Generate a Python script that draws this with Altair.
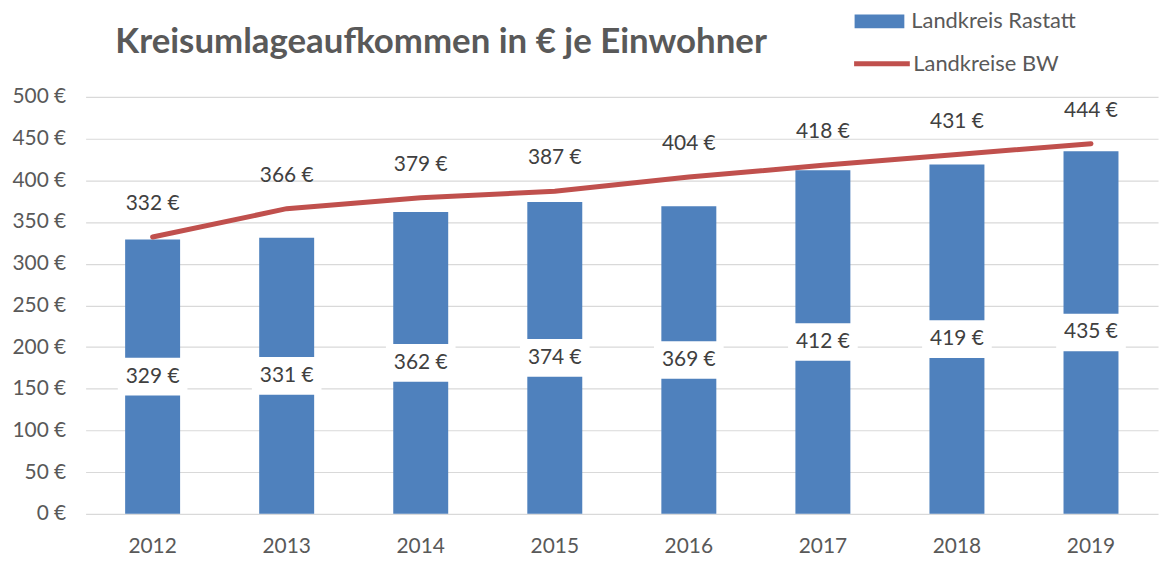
import altair as alt
import pandas as pd

years = ["2012", "2013", "2014", "2015", "2016", "2017", "2018", "2019"]
rastatt = [329, 331, 362, 374, 369, 412, 419, 435]
bw = [332, 366, 379, 387, 404, 418, 431, 444]

df = pd.DataFrame({
    "year": years,
    "rastatt": rastatt,
    "bw": bw,
    "s1": ["Landkreis Rastatt"] * len(years),
    "s2": ["Landkreise BW"] * len(years),
})

FONT = "Lato"
GREY = "#595959"
FS = 21

x = alt.X("year:N", title=None,
          scale=alt.Scale(paddingInner=0.59, paddingOuter=0.295),
          axis=alt.Axis(labelAngle=0, labelFontSize=FS, labelColor=GREY, labelFont=FONT,
                        domain=False, ticks=False, labelPadding=22))

base = alt.Chart(df).encode(x=x)

bars = base.mark_bar(color="#4F81BD").encode(
    y=alt.Y("rastatt:Q", title=None,
            scale=alt.Scale(domain=[0, 500]),
            axis=alt.Axis(values=list(range(0, 501, 50)), labelExpr="datum.value + ' €'",
                          labelFontSize=FS, labelColor=GREY, labelFont=FONT,
                          domain=False, ticks=False, labelPadding=20,
                          gridColor="#D9D9D9", gridWidth=1.2)),
    fill=alt.Fill("s1:N", title=None,
                  scale=alt.Scale(domain=["Landkreis Rastatt"], range=["#4F81BD"]),
                  legend=alt.Legend(orient="none", legendX=773, legendY=-101,
                                    symbolType="M-1,-0.28H1V0.28H-1Z", symbolSize=2500,
                                    symbolStrokeWidth=0, labelFontSize=22, labelColor=GREY,
                                    labelFont=FONT, labelOffset=7, padding=0, labelLimit=400)),
)

boxes = base.transform_calculate(mid="datum.rastatt / 2").mark_point(
    shape="M-1,-0.54H1V0.54H-1Z", filled=True, color="white", opacity=1, size=4900
).encode(y=alt.Y("mid:Q"))

bar_labels = base.transform_calculate(
    mid="datum.rastatt / 2", lbl="datum.rastatt + ' €'"
).mark_text(fontSize=FS, color="#404040", font=FONT).encode(
    y=alt.Y("mid:Q"), text="lbl:N")

line = base.mark_line(strokeWidth=5, strokeCap="round").encode(
    y=alt.Y("bw:Q"),
    stroke=alt.Stroke("s2:N", title=None,
                      scale=alt.Scale(domain=["Landkreise BW"], range=["#C0504D"]),
                      legend=alt.Legend(orient="none", legendX=770, legendY=-64,
                                        symbolType="stroke", symbolSize=3136,
                                        symbolStrokeWidth=5, labelFontSize=22, labelColor=GREY,
                                        labelFont=FONT, labelOffset=1, padding=0, labelLimit=400)),
)

line_labels = base.transform_calculate(lbl="datum.bw + ' €'").mark_text(
    fontSize=FS, color="#404040", font=FONT, dy=-33
).encode(y=alt.Y("bw:Q"), text="lbl:N")

chart = alt.layer(bars, boxes, bar_labels, line, line_labels).resolve_scale(
    fill="independent", stroke="independent"
).properties(
    width=1078, height=419,
    title=alt.TitleParams("Kreisumlageaufkommen in € je Einwohner", anchor="start",
                          fontSize=35, font=FONT, fontWeight="bold", color=GREY,
                          dx=104, offset=-64),
    autosize=alt.AutoSizeParams(type="none"),
    padding={"left": 78, "top": 88, "right": 4, "bottom": 45},
).configure_view(stroke=None)

chart.save("out.html", embed_options={"renderer": "svg", "actions": False})
